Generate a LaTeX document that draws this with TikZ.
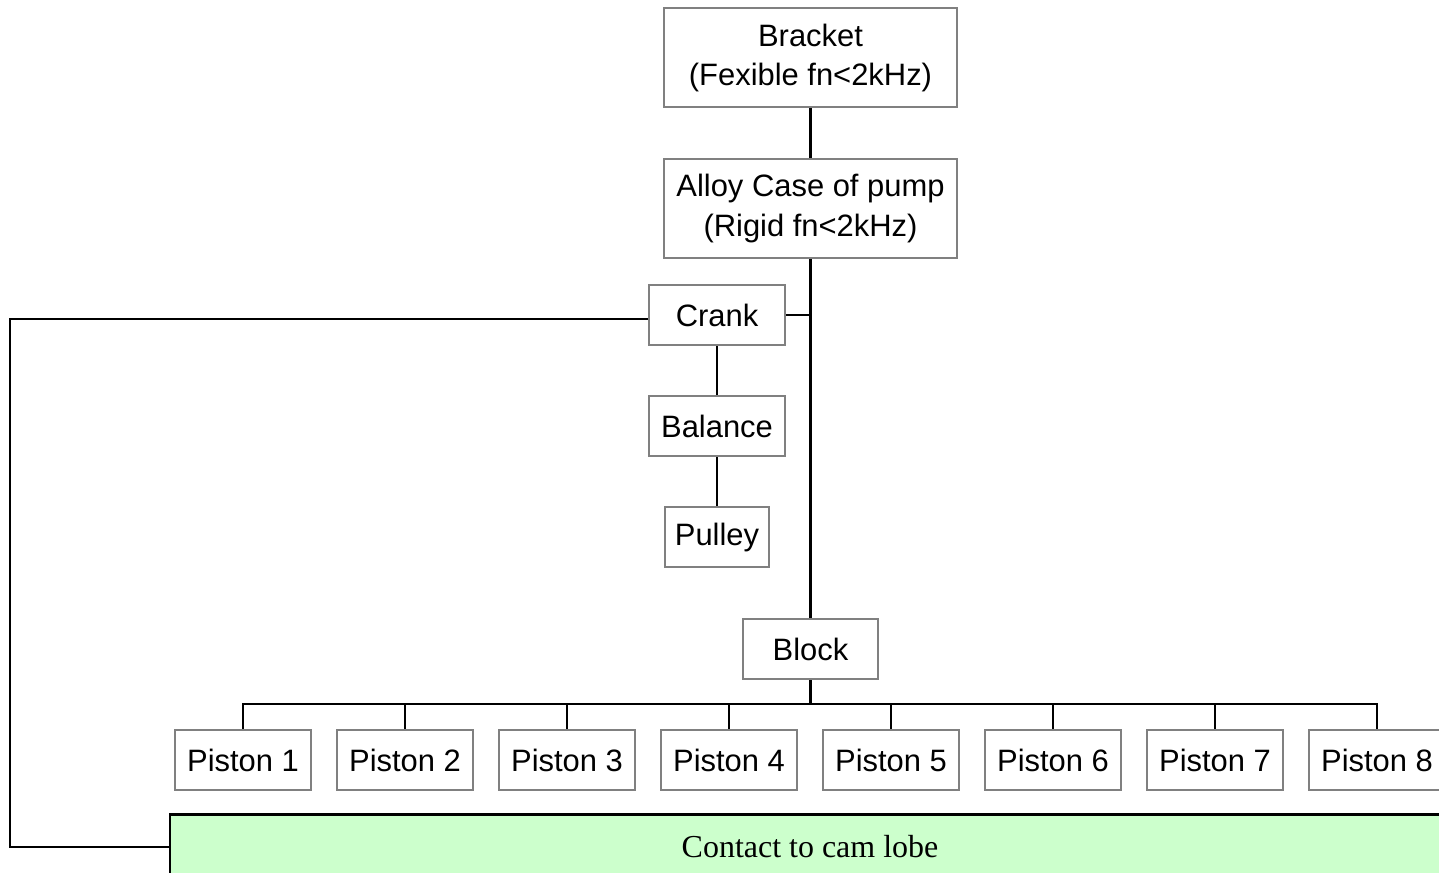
\documentclass[tikz,border=0pt]{standalone}
\usepackage{fontspec}
\setmainfont{Liberation Sans}
\newfontfamily\camfont{Liberation Serif}
\usepackage{xcolor}
\definecolor{cgray}{RGB}{128,128,128}
\definecolor{cmint}{RGB}{204,255,204}

\begin{document}
\begin{tikzpicture}[x=0.02cm, y=-0.02cm,
    part/.style={draw=cgray, line width=1.2pt, minimum width=2.72cm, minimum height=1.2cm,
                 inner sep=0pt, align=center, font=\fontsize{17.6}{22.2}\selectfont},
    link/.style={line width=1.3pt},
  ]
  \clip (0,0) rectangle (1439,872);
  % housing
  \node[part, minimum width=5.86cm, minimum height=1.98cm] (bracket) at (810.5,57.5)
    {Bracket\\(Fexible fn<2kHz)};
  \node[part, minimum width=5.86cm, minimum height=1.98cm] (case) at (810.5,208.5)
    {Alloy Case of pump\\(Rigid fn<2kHz)};
  % crank train
  \node[part] (crank) at (717,315) {Crank};
  \node[part] (balance) at (717,426) {Balance};
  \node[part, minimum width=2.08cm] (pulley) at (717,537) {Pulley};
  % block and pistons
  \node[part, minimum width=2.7cm] (block) at (810.5,649) {Block};
  \foreach \i in {1,...,8}
    \node[part] (p\i) at ({243+162*(\i-1)},760) {Piston \i};
  % cam contact
  \node[draw=black, fill=cmint, line width=1.3pt, minimum width=25.6cm, minimum height=1.3cm,
        font=\camfont\fontsize{18.2}{22}\selectfont] (cam) at (810,847) {Contact to cam lobe};
  \coordinate (bus) at (810.5,704);
  \coordinate (lft) at (10,847);
  % links
  \draw[link] (bracket) -- (case);
  \draw[link] (case.south) -- (block.north);
  \draw[link] (crank.east) -- (crank.east -| case.south);
  \draw[link] (crank) -- (balance);
  \draw[link] (balance) -- (pulley);
  \draw[link] ([yshift=-0.08cm]crank.west) -| (lft) -- (cam.west);
  \draw[link] (block) -- (bus);
  \draw[link] (p1.north) |- (bus) -| (p8.north);
  \foreach \i in {2,...,7}
    \draw[link] (p\i.north) -- (p\i.north |- bus);
\end{tikzpicture}
\end{document}
